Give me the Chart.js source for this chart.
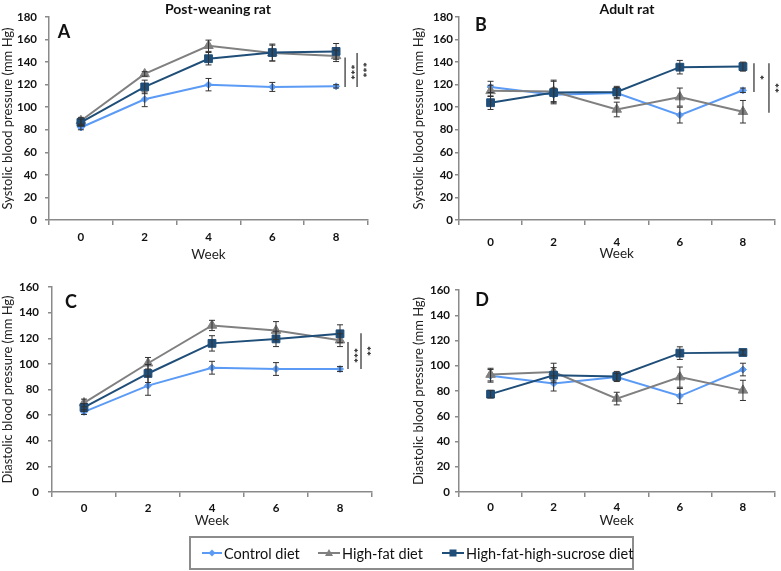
<!DOCTYPE html>
<html>
<head>
<meta charset="utf-8">
<script src="https://cdn.jsdelivr.net/npm/chart.js@4.4.1/dist/chart.umd.min.js"></script>
<style>
  body { margin: 0; background: #fff; }
  #wrap { position: relative; width: 781px; height: 571px; overflow: hidden; font-family: Lato, "Open Sans", sans-serif; color: #111; }
  canvas { position: absolute; left: 0; top: 0; }
  .lbl { position: absolute; transform: translate(-50%, -50%); line-height: 1; white-space: nowrap; font-weight: bold; }
  .ttl { font-size: 14px; }
  .let { font-size: 18px; }
  #legend { position: absolute; left: 189px; top: 536px; width: 441px; height: 30px; border: 2px solid #8c8c8c; }
  .item { position: absolute; top: 0; height: 30px; display: flex; align-items: center; font-size: 14.5px; color: #111; white-space: nowrap; }
  .item svg { margin-right: 2px; flex: none; }
</style>
</head>
<body>
<div id="wrap">
  <canvas id="chartA" width="781" height="571"></canvas>
  <canvas id="chartB" width="781" height="571"></canvas>
  <canvas id="chartC" width="781" height="571"></canvas>
  <canvas id="chartD" width="781" height="571"></canvas>

  <div class="lbl ttl" style="left:218px; top:9px;">Post-weaning rat</div>
  <div class="lbl ttl" style="left:627px; top:9px;">Adult rat</div>
  <div class="lbl let" style="left:64px; top:31px;">A</div>
  <div class="lbl let" style="left:481px; top:24px;">B</div>
  <div class="lbl let" style="left:71px; top:301px;">C</div>
  <div class="lbl let" style="left:482px; top:299px;">D</div>

  <div id="legend">
    <div class="item" style="left:11px;">
      <svg width="20" height="10"><line x1="0" y1="5" x2="20" y2="5" stroke="#5b9bf5" stroke-width="2"/><polygon points="10,1.5 13.5,5 10,8.5 6.5,5" fill="#5b9bf5"/></svg>Control diet
    </div>
    <div class="item" style="left:127px;">
      <svg width="22" height="10"><line x1="0" y1="5" x2="22" y2="5" stroke="#808080" stroke-width="2"/><polygon points="11,1 15,8 7,8" fill="#808080"/></svg>High-fat diet
    </div>
    <div class="item" style="left:251px;">
      <svg width="22" height="10"><line x1="0" y1="5" x2="22" y2="5" stroke="#1f4e79" stroke-width="2"/><rect x="7.5" y="1.5" width="7" height="7" fill="#1f4e79"/></svg>High-fat-high-sucrose diet
    </div>
  </div>
</div>

<script>
// DATA
const weeks = ['0', '2', '4', '6', '8'];
const seriesNames = ['Control diet', 'High-fat diet', 'High-fat-high-sucrose diet'];

// A: post-weaning, systolic
const postSbpControl = [82, 107, 120, 118, 118.5];
const postSbpHf = [88, 129.5, 154.5, 148, 145.5];
const postSbpHfhs = [86.5, 118, 143, 148.5, 149.5];
const postSbpControlErr = [2, 6.5, 5.5, 4, 1.5];
const postSbpHfErr = [3, 2, 5, 7, 5];
const postSbpHfhsErr = [3, 6, 5.5, 7.5, 7];

// B: adult, systolic
const adultSbpControl = [118, 111, 112.5, 93, 115];
const adultSbpHf = [114.5, 114, 98, 109, 96];
const adultSbpHfhs = [104, 113, 113.5, 135.5, 136];
const adultSbpControlErr = [5, 6, 5, 7, 2];
const adultSbpHfErr = [5, 10, 6.5, 8, 10];
const adultSbpHfhsErr = [6, 10, 5, 6, 4];

// C: post-weaning, diastolic
const postDbpControl = [62.5, 83, 97, 96, 96];
const postDbpHf = [69.5, 100.5, 130, 126, 118.5];
const postDbpHfhs = [66, 92.5, 116, 119.5, 123.5];
const postDbpControlErr = [2, 7.5, 5, 5, 2];
const postDbpHfErr = [3, 4.5, 4, 7, 5];
const postDbpHfhsErr = [3, 7, 6, 6, 7];

// D: adult, diastolic
const adultDbpControl = [92, 86, 91, 76, 97];
const adultDbpHf = [93, 95, 74, 91, 80.5];
const adultDbpHfhs = [77.5, 92.5, 91.5, 110, 110.5];
const adultDbpControlErr = [5, 6, 3, 6, 5];
const adultDbpHfErr = [5, 7, 5, 8, 8];
const adultDbpHfhsErr = [3, 6, 4, 5, 2];

// significance brackets (value range + label)
const postSbpSig = [{ from: 118, to: 144, text: '***' }, { from: 118, to: 148, text: '***' }];
const adultSbpSig = [{ from: 113.5, to: 139, text: '*' }, { from: 95, to: 139, text: '**' }];
const postDbpSig = [{ from: 96, to: 117, text: '***' }, { from: 96, to: 124, text: '**' }];

const sbpMax = 180;
const dbpMax = 160;

// STYLE
const colors = ['#5b9bf5', '#808080', '#1f4e79'];
const pointStyles = ['rectRot', 'triangle', 'rect'];
const pointRadii = [3.5, 5.5, 5.5];
const axisColor = '#8a8a8a';
const tickFont = { family: 'Lato', size: 11.5, weight: 'bold' };

// error bars + significance lines
const extras = {
    id: 'extras',
    afterDatasetsDraw(chart, args, opts) {
        const ctx = chart.ctx;
        const yScale = chart.scales.y;
        ctx.save();
        ctx.strokeStyle = '#333';
        ctx.lineWidth = 1;
        opts.errors.forEach((errs, i) => {
            const meta = chart.getDatasetMeta(i);
            const vals = chart.data.datasets[i].data;
            errs.forEach((e, j) => {
                const px = meta.data[j].x;
                const top = yScale.getPixelForValue(vals[j] + e);
                const bot = yScale.getPixelForValue(vals[j] - e);
                ctx.beginPath();
                ctx.moveTo(px, top); ctx.lineTo(px, bot);
                ctx.moveTo(px - 3, top); ctx.lineTo(px + 3, top);
                ctx.moveTo(px - 3, bot); ctx.lineTo(px + 3, bot);
                ctx.stroke();
            });
        });

        // brackets to the right of the last week
        const lastX = chart.getDatasetMeta(0).data[weeks.length - 1].x;
        (opts.sig || []).forEach((s, k) => {
            const x = lastX + opts.sigDx[k];
            const y1 = yScale.getPixelForValue(s.to);
            const y2 = yScale.getPixelForValue(s.from);
            ctx.strokeStyle = '#555';
            ctx.lineWidth = 1.5;
            ctx.beginPath();
            ctx.moveTo(x, y1); ctx.lineTo(x, y2);
            ctx.stroke();
            ctx.save();
            ctx.translate(x + 7, (y1 + y2) / 2);
            ctx.rotate(Math.PI / 2);
            ctx.fillStyle = '#222';
            ctx.font = 'bold 12px Lato';
            ctx.textAlign = 'center';
            ctx.textBaseline = 'middle';
            ctx.fillText(s.text, 0, 2);
            ctx.restore();
        });
        ctx.restore();
    }
};

function makePanel(id, series, errors, yMax, yTitle, box, sig, sigDx) {
    new Chart(document.getElementById(id), {
        type: 'line',
        data: {
            labels: weeks,
            datasets: series.map((d, i) => ({
                label: seriesNames[i],
                data: d,
                borderColor: colors[i],
                backgroundColor: colors[i],
                borderWidth: 2,
                pointStyle: pointStyles[i],
                pointRadius: pointRadii[i],
                pointBorderWidth: 1,
                tension: 0,
                order: 2 - i
            }))
        },
        options: {
            responsive: false,
            animation: false,
            layout: { padding: box.pad },
            plugins: {
                legend: { display: false },
                tooltip: { enabled: false },
                extras: { errors: errors, sig: sig, sigDx: sigDx }
            },
            scales: {
                x: {
                    type: 'category',
                    offset: true,
                    grid: { offset: true, drawOnChartArea: false, tickLength: 5, color: axisColor, lineWidth: 1.5 },
                    border: { color: axisColor, width: 1.5 },
                    ticks: { font: tickFont, color: '#111', padding: box.xPad },
                    title: { display: true, text: 'Week', font: { family: 'Lato', size: 13.5 }, color: '#222', padding: 0 },
                    afterFit(s) { s.height = box.xH; }
                },
                y: {
                    min: 0,
                    max: yMax,
                    ticks: { stepSize: 20, font: tickFont, color: '#111', padding: box.yPad },
                    grid: { drawOnChartArea: false, tickLength: 4, color: axisColor, lineWidth: 1.5 },
                    border: { color: axisColor, width: 1.5 },
                    title: { display: true, text: yTitle, font: { family: 'Lato', size: 13 }, color: '#222', padding: { top: box.tPad, bottom: 0 } },
                    afterFit(s) { s.width = box.yW; }
                }
            }
        },
        plugins: [extras]
    });
}

makePanel('chartA',
    [postSbpControl, postSbpHf, postSbpHfhs],
    [postSbpControlErr, postSbpHfErr, postSbpHfhsErr],
    sbpMax, 'Systolic blood pressure (mm Hg)',
    { pad: { left: 0, top: 17, right: 413, bottom: 308 }, yW: 49, xH: 43, xPad: 5, yPad: 8, tPad: 0 },
    postSbpSig, [9, 21]);

makePanel('chartB',
    [adultSbpControl, adultSbpHf, adultSbpHfhs],
    [adultSbpControlErr, adultSbpHfErr, adultSbpHfhsErr],
    sbpMax, 'Systolic blood pressure (mm Hg)',
    { pad: { left: 411, top: 17, right: 3, bottom: 309 }, yW: 48, xH: 42, xPad: 10, yPad: 2, tPad: 0 },
    adultSbpSig, [11, 26]);

makePanel('chartC',
    [postDbpControl, postDbpHf, postDbpHfhs],
    [postDbpControlErr, postDbpHfErr, postDbpHfhsErr],
    dbpMax, 'Diastolic blood pressure (mm Hg)',
    { pad: { left: 0, top: 287, right: 409, bottom: 42 }, yW: 52, xH: 37, xPad: 4, yPad: 9, tPad: 0 },
    postDbpSig, [8, 21]);

makePanel('chartD',
    [adultDbpControl, adultDbpHf, adultDbpHfhs],
    [adultDbpControlErr, adultDbpHfErr, adultDbpHfhsErr],
    dbpMax, 'Diastolic blood pressure (mm Hg)',
    { pad: { left: 411, top: 290, right: 3, bottom: 42 }, yW: 48, xH: 37, xPad: 3, yPad: 5, tPad: 0 },
    [], []);
</script>
</body>
</html>
